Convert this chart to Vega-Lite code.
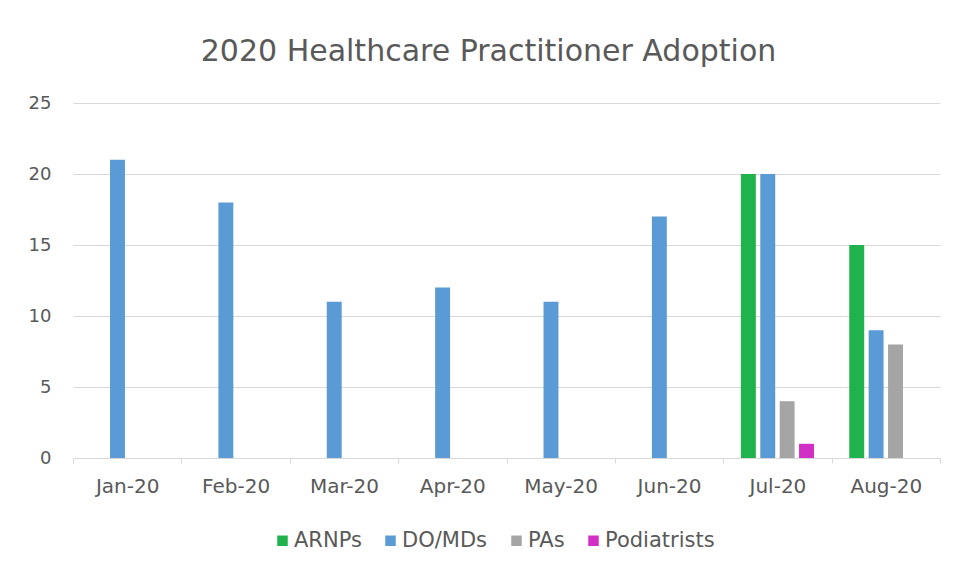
{
  "$schema": "https://vega.github.io/schema/vega-lite/v6.json",
  "autosize": {"type": "none"},
  "width": 867,
  "height": 355,
  "padding": {"left": 73, "top": 103, "right": 18, "bottom": 117},
  "background": "#ffffff",
  "title": {
    "text": "2020 Healthcare Practitioner Adoption",
    "font": "DejaVu Sans",
    "fontSize": 30,
    "fontWeight": "normal",
    "color": "#595959",
    "offset": 27,
    "dx": -18
  },
  "data": {
    "values": [
      {"month": "Jan-20", "group": "DO/MDs", "count": 21},
      {"month": "Feb-20", "group": "DO/MDs", "count": 18},
      {"month": "Mar-20", "group": "DO/MDs", "count": 11},
      {"month": "Apr-20", "group": "DO/MDs", "count": 12},
      {"month": "May-20", "group": "DO/MDs", "count": 11},
      {"month": "Jun-20", "group": "DO/MDs", "count": 17},
      {"month": "Jul-20", "group": "ARNPs", "count": 20},
      {"month": "Jul-20", "group": "DO/MDs", "count": 20},
      {"month": "Jul-20", "group": "PAs", "count": 4},
      {"month": "Jul-20", "group": "Podiatrists", "count": 1},
      {"month": "Aug-20", "group": "ARNPs", "count": 15},
      {"month": "Aug-20", "group": "DO/MDs", "count": 9},
      {"month": "Aug-20", "group": "PAs", "count": 8}
    ]
  },
  "mark": {"type": "bar"},
  "encoding": {
    "x": {
      "field": "month",
      "type": "nominal",
      "sort": ["Jan-20", "Feb-20", "Mar-20", "Apr-20", "May-20", "Jun-20", "Jul-20", "Aug-20"],
      "scale": {"paddingInner": 0, "paddingOuter": 0},
      "axis": {
        "title": null,
        "labelAngle": 0,
        "labelFont": "DejaVu Sans",
        "labelFontSize": 20,
        "labelColor": "#595959",
        "labelPadding": 13,
        "domainColor": "#d9d9d9",
        "tickColor": "#d9d9d9",
        "tickSize": 5,
        "tickBand": "extent",
        "grid": false
      }
    },
    "xOffset": {
      "field": "group",
      "type": "nominal",
      "scale": {"domain": ["ARNPs", "DO/MDs", "PAs", "Podiatrists"], "paddingInner": 0.23, "paddingOuter": 0.91}
    },
    "y": {
      "field": "count",
      "type": "quantitative",
      "scale": {"domain": [0, 25]},
      "axis": {
        "title": null,
        "values": [0, 5, 10, 15, 20, 25],
        "labelFont": "DejaVu Sans",
        "labelFontSize": 18,
        "labelColor": "#595959",
        "labelPadding": 22,
        "domain": false,
        "ticks": false,
        "gridColor": "#d9d9d9",
        "gridWidth": 1
      }
    },
    "color": {
      "field": "group",
      "type": "nominal",
      "scale": {
        "domain": ["ARNPs", "DO/MDs", "PAs", "Podiatrists"],
        "range": ["#20b24c", "#5b9bd5", "#a5a5a5", "#d12fc5"]
      },
      "legend": {
        "title": null,
        "orient": "none",
        "direction": "horizontal",
        "legendX": 199,
        "legendY": 427,
        "symbolType": "square",
        "symbolSize": 110,
        "symbolStrokeWidth": 0,
        "labelFont": "DejaVu Sans",
        "labelFontSize": 21,
        "labelColor": "#595959",
        "labelOffset": 1,
        "columnPadding": 18
      }
    }
  },
  "config": {
    "view": {"stroke": null}
  }
}
